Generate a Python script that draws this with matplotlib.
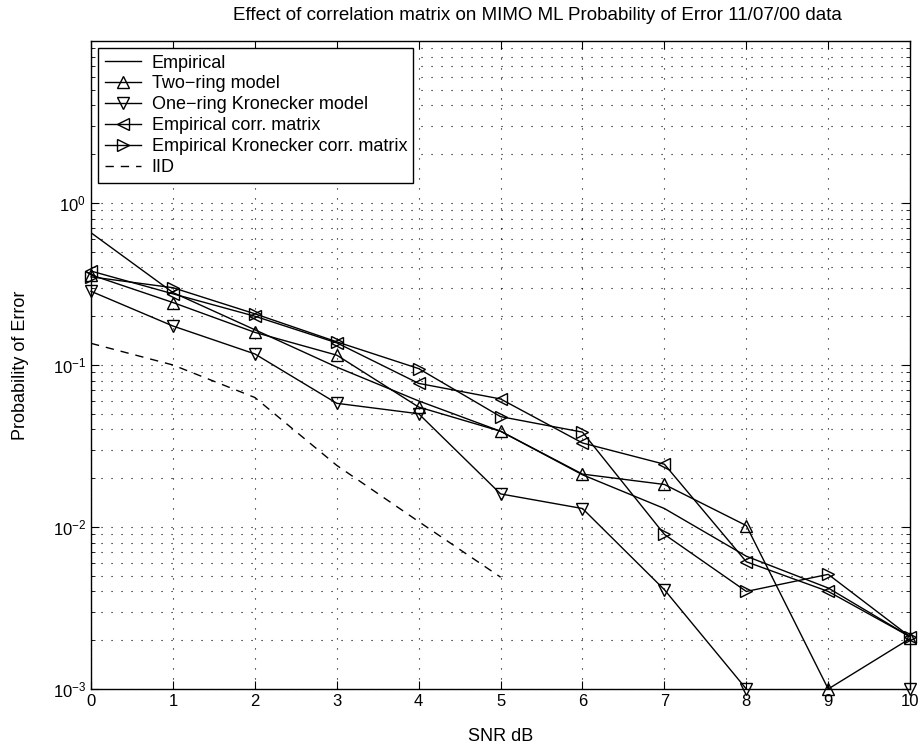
import numpy as np
import matplotlib
matplotlib.use('Agg')
from matplotlib import pyplot as plt
from matplotlib.ticker import LogLocator, NullFormatter

plt.rcParams['font.family'] = ['Liberation Sans', 'DejaVu Sans']

snr = [0, 1, 2, 3, 4, 5, 6, 7, 8, 9, 10]
snr_iid = [0, 1, 2, 3, 4, 5]

empirical = [0.655, 0.28, 0.165, 0.097, 0.060, 0.039, 0.021, 0.013, 0.0066, 0.0042, 0.0021]
two_ring = [0.36, 0.243, 0.159, 0.115, 0.055, 0.039, 0.0212, 0.0183, 0.0102, 0.001, 0.00205]
one_ring = [0.285, 0.174, 0.117, 0.058, 0.050, 0.016, 0.013, 0.0041, 0.001, np.nan, 0.001]
emp_corr = [0.38, 0.275, 0.20, 0.137, 0.077, 0.0617, 0.033, 0.0244, 0.0061, 0.0040, 0.0021]
emp_kron = [0.35, 0.30, 0.207, 0.139, 0.095, 0.048, 0.0385, 0.0090, 0.0040, 0.0051, 0.0021]
iid = [0.136, 0.100, 0.063, 0.024, 0.0108, 0.0049]

fig = plt.figure(figsize=(9.24, 7.52), dpi=100)
ax = fig.add_axes([0.0985, 0.0838, 0.8865, 0.8617])

ms = 9
mk = dict(ms=ms, mfc='none', mew=1.0, clip_on=False)
ax.semilogy(snr, empirical, 'k-', lw=1.0, label='Empirical')
ax.semilogy(snr, two_ring, 'k-', lw=1.0, marker='^', label='Two\u2212ring model', **mk)
ax.semilogy(snr, one_ring, 'k-', lw=1.0, marker='v', label='One\u2212ring Kronecker model', **mk)
ax.semilogy(snr, emp_corr, 'k-', lw=1.0, marker='<', label='Empirical corr. matrix', **mk)
ax.semilogy(snr, emp_kron, 'k-', lw=1.0, marker='>', label='Empirical Kronecker corr. matrix', **mk)
ax.semilogy(snr_iid, iid, 'k--', lw=1.0, dashes=(6, 5), label='IID')

ax.set_xlim(0, 10)
ax.set_ylim(1e-3, 1e1)
ax.set_xticks(range(0, 11))
ax.yaxis.set_minor_locator(LogLocator(base=10, subs=np.arange(2, 10), numticks=100))
ax.yaxis.set_minor_formatter(NullFormatter())
ax.set_yticks([1e-3, 1e-2, 1e-1, 1e0])

dots = (0, (1, 8))
ax.grid(True, which='major', axis='both', color='k', linestyle=dots, lw=0.8)
ax.grid(True, which='minor', axis='y', color='k', linestyle=dots, lw=0.8)
ax.tick_params(which='both', direction='in', top=True, right=True, labelsize=12)
ax.tick_params(which='major', length=6)
ax.tick_params(which='minor', length=3)
for s in ax.spines.values():
    s.set_linewidth(1.0)

ax.set_title('Effect of correlation matrix on MIMO ML Probability of Error 11/07/00 data',
             fontsize=13.5, pad=15, x=0.545)
ax.set_xlabel('SNR dB', fontsize=13, labelpad=14)
ax.set_ylabel('Probability of Error', fontsize=13, labelpad=17)

leg = ax.legend(loc='upper left', fontsize=13, handlelength=2.0, handletextpad=0.6,
                borderpad=0.35, labelspacing=0.22, fancybox=False, framealpha=1,
                edgecolor='k', borderaxespad=0.4)
leg.get_frame().set_linewidth(1.0)

fig.savefig('out.png', dpi=100)
